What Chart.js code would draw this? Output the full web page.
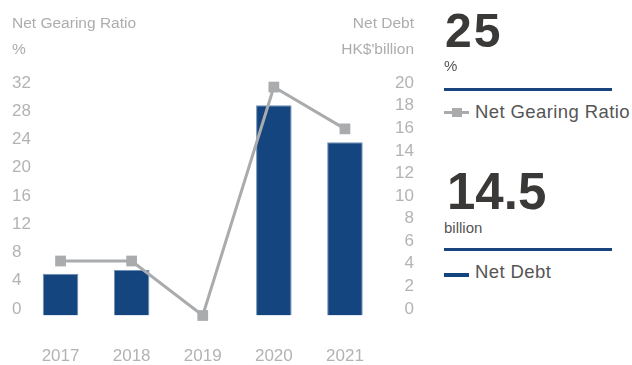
<!DOCTYPE html>
<html>
<head>
<meta charset="utf-8">
<script src="https://cdn.jsdelivr.net/npm/chart.js@4"></script>
<style>
  html, body { margin: 0; padding: 0; background: #fff; }
  #wrap { position: relative; width: 632px; height: 365px; overflow: hidden; font-family: "Liberation Sans", Arial, sans-serif; }
  #chart { position: absolute; left: 0; top: 0; }
  .t { position: absolute; line-height: 1; white-space: nowrap; }
  .axis-title { color: #adadad; font-size: 15.5px; }
  .big { color: #3b3838; font-weight: bold; }
  .unit { color: #555; font-size: 15px; }
  .rule { position: absolute; left: 444px; width: 168px; height: 3px; background: #1a4480; }
  .leg { color: #555; font-size: 18.5px; letter-spacing: 0.4px; }
</style>
</head>
<body>
<div id="wrap">
  <canvas id="chart" width="420" height="365"></canvas>

  <div class="t axis-title" style="left:12px; top:15px;">Net Gearing Ratio</div>
  <div class="t axis-title" style="left:12px; top:41px;">%</div>
  <div class="t axis-title" style="right:218px; top:15px;">Net Debt</div>
  <div class="t axis-title" style="right:218px; top:41px;">HK$'billion</div>

  <div class="t big" style="left:445px; top:7px; font-size:48px; letter-spacing:2px;">25</div>
  <div class="t unit" style="left:444px; top:58px;">%</div>
  <div class="rule" style="top:88px;"></div>
  <div style="position:absolute; left:444px; top:111px; width:25px; height:3px; background:#a9abad;"></div>
  <div style="position:absolute; left:452px; top:108px; width:10px; height:9px; background:#a9abad;"></div>
  <div class="t leg" style="left:475px; top:103px;">Net Gearing Ratio</div>

  <div class="t big" style="left:447px; top:166px; font-size:51px;">14.5</div>
  <div class="t unit" style="left:444px; top:220px;">billion</div>
  <div class="rule" style="top:248px;"></div>
  <div style="position:absolute; left:444px; top:273px; width:25px; height:4px; background:#15457f;"></div>
  <div class="t leg" style="left:475px; top:263px;">Net Debt</div>
</div>

<script>
const years = ['2017', '2018', '2019', '2020', '2021'];
const netDebt = [3.5, 3.8, 0, 17.6, 14.5];        // HK$ billion
const netGearing = [7.3, 7.3, 0, 30.6, 25];       // %
const gearingTicks = [0, 4, 8, 12, 16, 20, 24, 28, 32];
const debtTicks = [0, 2, 4, 6, 8, 10, 12, 14, 16, 18, 20];

const grey = '#b3b3b3';
const tickFont = { family: '"Liberation Sans", Arial, sans-serif', size: 17 };

// label-only axes: ticks are placed a touch inside the plotted range
function labelAxis(position, min, max, values, width, ticks) {
  return {
    position: position,
    min: min,
    max: max,
    grid: { display: false },
    border: { display: false },
    afterBuildTicks: s => { s.ticks = values.map(v => ({ value: v })); },
    afterFit: s => { s.width = width; },
    ticks: Object.assign({ color: grey, font: tickFont }, ticks)
  };
}

new Chart(document.getElementById('chart'), {
  data: {
    labels: years,
    datasets: [
      {
        type: 'line',
        label: 'Net Gearing Ratio',
        data: netGearing,
        yAxisID: 'yGear',
        order: 0,
        borderColor: '#a9abad',
        borderWidth: 3,
        pointStyle: 'rect',
        pointRadius: 7.6,
        pointBackgroundColor: '#a9abad',
        pointBorderWidth: 0,
        tension: 0,
        clip: false
      },
      {
        type: 'bar',
        label: 'Net Debt',
        data: netDebt,
        yAxisID: 'yDebt',
        order: 1,
        backgroundColor: '#15457f',
        borderColor: '#6f8fb8',
        borderWidth: 1,
        categoryPercentage: 1,
        barPercentage: 0.5
      }
    ]
  },
  options: {
    responsive: false,
    animation: false,
    layout: { padding: { left: 0, right: 6, top: 76.6, bottom: 0 } },
    plugins: { legend: { display: false }, tooltip: { enabled: false } },
    scales: {
      x: {
        offset: true,
        grid: { display: false },
        border: { display: false },
        afterFit: s => { s.height = 49.5; },
        ticks: { color: grey, font: tickFont, padding: 23 }
      },
      yGear: { position: 'left', display: false, min: 0, max: 32 },
      yDebt: { position: 'right', display: false, min: 0, max: 20 },
      // left labels sit flush left at x = 12, drawn mirrored so they are not clipped
      yl: labelAxis('left', -0.92, 32.91, gearingTicks, 25, { mirror: true, padding: -13, crossAlign: 'near' }),
      yr: labelAxis('right', -0.575, 20.57, debtTicks, 33.5, { padding: 0, crossAlign: 'far' })
    }
  }
});
</script>
</body>
</html>
